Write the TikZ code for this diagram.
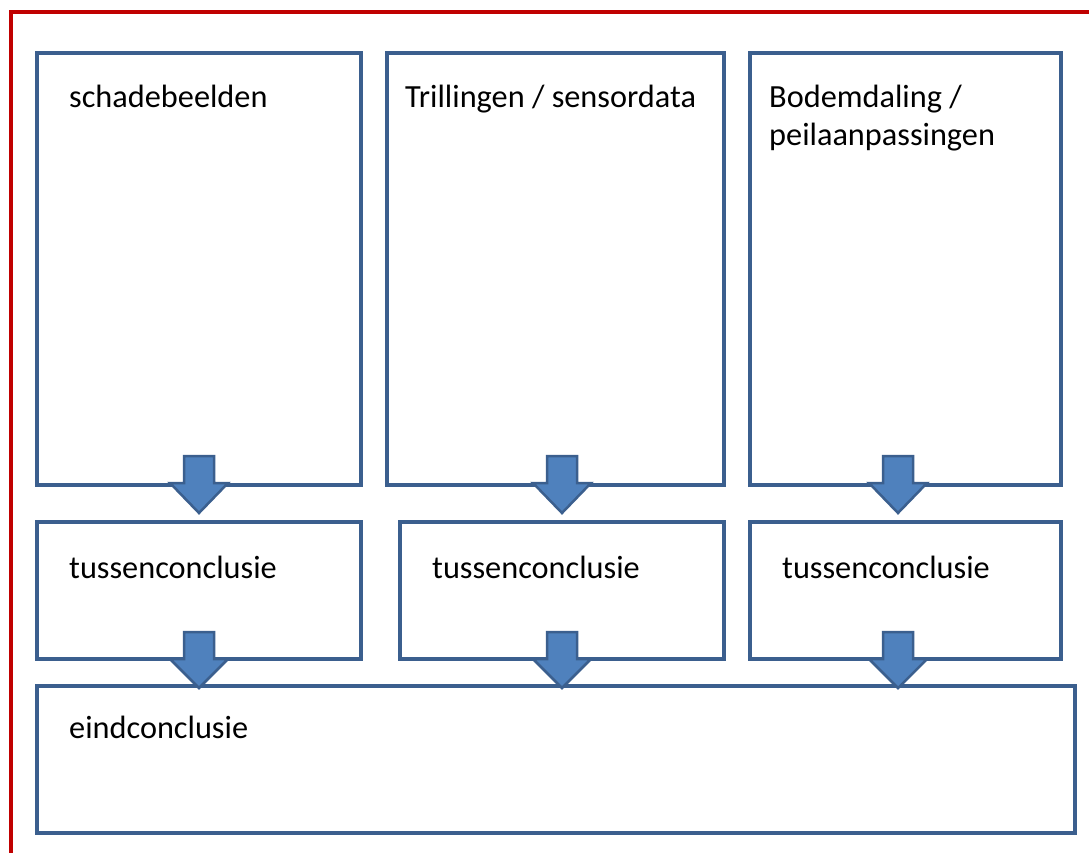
\documentclass[tikz,border=0pt]{standalone}
\usepackage{fontspec}
\setmainfont{Carlito}
\usetikzlibrary{calc}
\definecolor{boxblue}{HTML}{3B5F8E}
\definecolor{arrowfill}{HTML}{4F81BD}
\definecolor{framered}{HTML}{C00000}
\tikzset{
  box/.style={draw=boxblue, line width=3.2pt, fill=white},
  lbl/.style={anchor=base west, inner sep=0pt, font=\fontsize{32.3}{38}\selectfont, text=black, align=left},
  blockarr/.style={draw=boxblue, line width=2.5pt, fill=arrowfill, line join=miter},
}
\newcommand{\blockarrow}[4]{%
  \draw[blockarr] (#1-15,#2) -- (#1+15,#2) -- (#1+15,#3) -- (#1+29,#3) -- (#1,#4) -- (#1-29,#3) -- (#1-15,#3) -- cycle;}
\begin{document}
\begin{tikzpicture}[x=1pt,y=-1pt]
\useasboundingbox (0,0) rectangle (1089,853);
% red frame
\draw[framered, line width=4pt] (10.5,900) -- (10.5,12.5) -- (1120,12.5);
% boxes
\draw[box] (37,53) rectangle (361,485);
\draw[box] (387,53) rectangle (724,485);
\draw[box] (750,53) rectangle (1061,485);
\draw[box] (37,522) rectangle (361,659);
\draw[box] (400,522) rectangle (724,659);
\draw[box] (750,522) rectangle (1061,659);
\draw[box] (37,686) rectangle (1075,833);
% labels
\node[lbl] (t1) at (69,107.5) {schadebeelden};
\node[lbl] (t2) at (405,107.5) {Trillingen / sensordata};
\node[lbl] (t3) at (769,145.5) {Bodemdaling /\\peilaanpassingen};
\node[lbl] (c1) at (69,578.5) {tussenconclusie};
\node[lbl] (c2) at (432,578.5) {tussenconclusie};
\node[lbl] (c3) at (782,578.5) {tussenconclusie};
\node[lbl] (e1) at (69,738.5) {eindconclusie};
% arrows
\blockarrow{199}{456}{483}{513}
\blockarrow{562}{456}{483}{513}
\blockarrow{898}{456}{483}{513}
\blockarrow{199}{632}{659}{688}
\blockarrow{562}{632}{659}{688}
\blockarrow{898}{632}{659}{688}
\end{tikzpicture}
\end{document}
